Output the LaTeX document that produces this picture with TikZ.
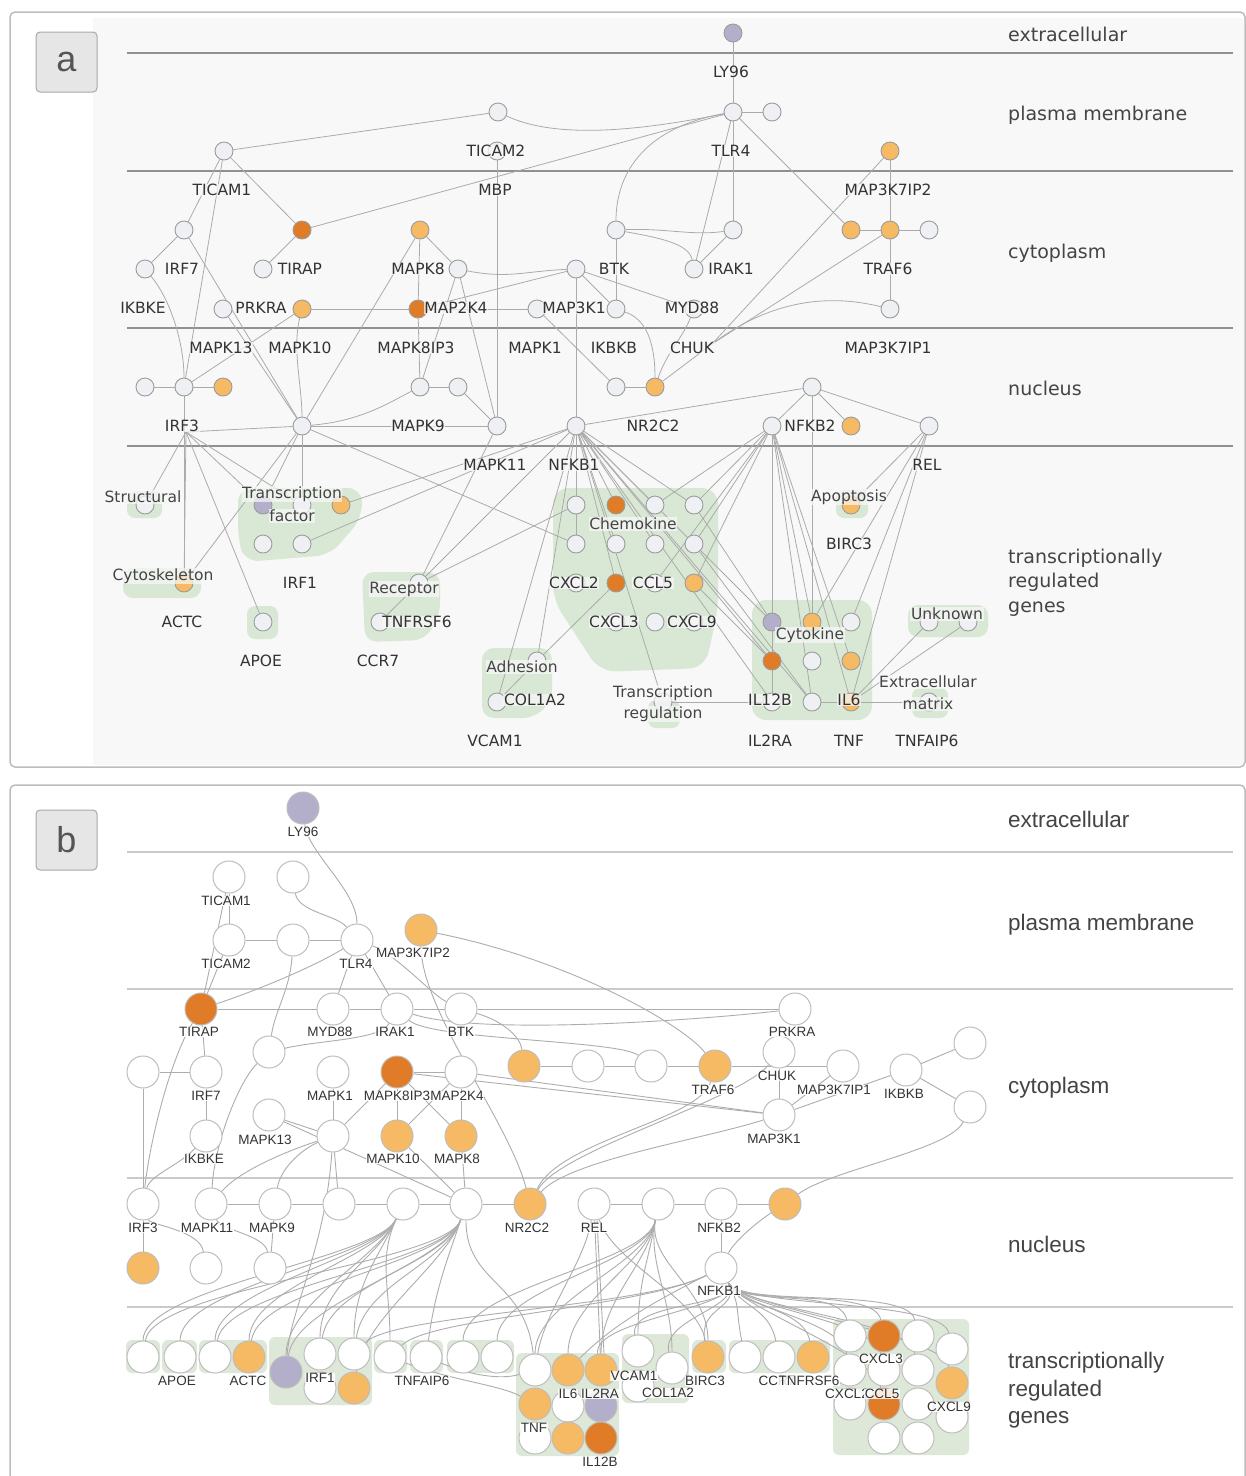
\documentclass[tikz,border=0pt]{standalone}
\usepackage{fontspec}
\newfontfamily\dvs{DejaVu Sans}
\newfontfamily\lib{Liberation Sans}
\definecolor{edgeA}{HTML}{ABABAB}
\definecolor{nodeA}{HTML}{9C9C9C}
\definecolor{wA}{HTML}{EEF0F3}
\definecolor{colLO}{HTML}{F5BA63}
\definecolor{colDO}{HTML}{E07B27}
\definecolor{colPU}{HTML}{B3AECA}
\definecolor{blobG}{HTML}{D9E8D5}
\definecolor{bgA}{HTML}{F8F8F8}
\definecolor{frameC}{HTML}{BDBDBD}
\definecolor{labC}{HTML}{333333}
\definecolor{regC}{HTML}{444444}
\definecolor{boxB}{HTML}{DEE8D9}
\definecolor{edgeB}{HTML}{ADADAD}
\definecolor{nodeB}{HTML}{BDBDBD}
\definecolor{sepA}{HTML}{8E9194}
\definecolor{sepB}{HTML}{CACACA}
\definecolor{letBox}{HTML}{E6E6E6}
\definecolor{letDraw}{HTML}{A9A9A9}
\definecolor{letC}{HTML}{555555}
\pgfdeclarelayer{back}
\pgfdeclarelayer{blobs}
\pgfdeclarelayer{edges}
\pgfsetlayers{back,blobs,edges,main}
\begin{document}
\begin{tikzpicture}[x=1pt,y=-1pt,
 anode/.style={circle,draw=nodeA,line width=0.9pt,minimum size=18pt,inner sep=0pt},
 alab/.style={font={\dvs\fontsize{15.5}{17}\selectfont},text=labC,fill=bgA,fill opacity=0.72,text opacity=1,inner sep=0.6pt},
 glab/.style={alab,text=regC},
 ae/.style={draw=edgeA,line width=0.8pt},
 bnode/.style={circle,draw=nodeB,line width=1pt,minimum size=32pt,inner sep=0pt},
 blab/.style={font={\lib\fontsize{13.5}{15}\selectfont},text=labC,fill=white,fill opacity=0.85,text opacity=1,inner sep=0.6pt},
 be/.style={draw=edgeB,line width=0.9pt},
 rega/.style={font={\dvs\fontsize{19}{22}\selectfont},text=regC,anchor=base west,inner sep=0pt},
 regb/.style={font={\lib\fontsize{22.5}{26}\selectfont},text=regC,anchor=base west,inner sep=0pt},
 blob/.style={fill=blobG},
 gbox/.style={fill=boxB,rounded corners=6pt},
 letterbox/.style={draw=letDraw,fill=letBox,line width=1pt,rounded corners=4pt,minimum width=61pt,minimum height=60pt,font={\lib\fontsize{36}{40}\selectfont},text=letC}
]
\useasboundingbox (0,0) rectangle (1246,1476);

% ---------- frames and separators ----------
\begin{pgfonlayer}{back}
\fill[white] (0,0) rectangle (1246,1476);
\fill[bgA] (93,18) rectangle (1244,765);
\draw[frameC,line width=1.5pt,rounded corners=5pt] (10,12) rectangle (1245,767);
\draw[frameC,line width=1.5pt,rounded corners=5pt] (10,785) rectangle (1245,1492);
\foreach \yy in {53,171,328,446} \draw[sepA,line width=1.2pt] (127,\yy) -- (1233,\yy);
\foreach \yy in {852,989,1178,1307} \draw[sepB,line width=2.6pt] (127,\yy) -- (1233,\yy);
\end{pgfonlayer}

\node[letterbox] (pa) at (66.5,62) {a};
\node[letterbox] (pb) at (66.5,840) {b};

% region labels
\node[rega] (ra1) at (1008,41) {extracellular};
\node[rega] (ra2) at (1008,120) {plasma membrane};
\node[rega] (ra3) at (1008,258) {cytoplasm};
\node[rega] (ra4) at (1008,395) {nucleus};
\node[rega] (ra5) at (1008,563) {transcriptionally};
\node[rega] (ra6) at (1008,587) {regulated};
\node[rega] (ra7) at (1008,612) {genes};
\node[regb] (rb1) at (1008,827) {extracellular};
\node[regb] (rb2) at (1008,930) {plasma membrane};
\node[regb] (rb3) at (1008,1093) {cytoplasm};
\node[regb] (rb4) at (1008,1252) {nucleus};
\node[regb] (rb5) at (1008,1368) {transcriptionally};
\node[regb] (rb6) at (1008,1396) {regulated};
\node[regb] (rb7) at (1008,1423) {genes};

% ---------- panel a: blobs ----------
\begin{pgfonlayer}{blobs}
\fill[blob,rounded corners=8pt] (127,491) rectangle (162,518);
\fill[blob,rounded corners=14pt] (238,488) -- (362,488) -- (362,518) -- (330,555) -- (245,562) -- (238,540) -- cycle;
\fill[blob,rounded corners=10pt] (123,568) rectangle (201,598);
\fill[blob,rounded corners=8pt] (247,606) rectangle (278,639);
\fill[blob,rounded corners=12pt] (362,572) -- (440,572) -- (440,615) -- (425,640) -- (365,642) -- cycle;
\fill[blob,rounded corners=16pt] (553,488) -- (718,488) -- (718,610) -- (705,668) -- (600,672) -- (553,600) -- cycle;
\fill[blob,rounded corners=12pt] (482,648) -- (552,648) -- (552,700) -- (535,718) -- (482,718) -- cycle;
\fill[blob,rounded corners=8pt] (648,700) rectangle (680,728);
\fill[blob,rounded corners=8pt] (836,490) rectangle (868,518);
\fill[blob,rounded corners=14pt] (752,600) rectangle (872,720);
\fill[blob,rounded corners=10pt] (908,605) rectangle (988,637);
\fill[blob,rounded corners=8pt] (912,688) rectangle (948,718);
% panel b boxes
\fill[gbox] (126,1340) rectangle (160,1373);
\fill[gbox] (162,1340) rectangle (197,1373);
\fill[gbox] (199,1340) rectangle (267,1373);
\fill[gbox] (269,1337) rectangle (372,1405);
\fill[gbox] (374,1340) rectangle (407,1373);
\fill[gbox] (410,1340) rectangle (443,1373);
\fill[gbox] (447,1340) rectangle (514,1373);
\fill[gbox] (516,1353) rectangle (619,1456);
\fill[gbox] (622,1334) rectangle (689,1403);
\fill[gbox] (692,1340) rectangle (726,1373);
\fill[gbox] (729,1340) rectangle (830,1373);
\fill[gbox] (833,1319) rectangle (969,1455);
\end{pgfonlayer}

% ---------- panel a: nodes ----------
\foreach \n/\x/\y/\c in {
aLY96/733/33/colPU,
aTICAM2/498/112/wA, aTLR4/733/112/wA, aU1/772/112/wA,
aTICAM1/224/151/wA, aMBP/497/151/wA, aMAP3K7IP2/890/151/colLO,
aIRF7/184/230/wA, aTIRAP/302/230/colDO, aMAPK8/420/230/colLO, aBTK/616/230/wA, aIRAK1/733/230/wA, aU2/851/230/colLO, aTRAF6/890/230/colLO, aU3/929/230/wA,
aIKBKE/145/269/wA, aPRKRA/263/269/wA, aMAP2K4/458/269/wA, aMAP3K1/576/269/wA, aMYD88/694/269/wA,
aMAPK13/223/309/wA, aMAPK10/302/309/colLO, aMAPK8IP3/418/309/colDO, aMAPK1/537/309/wA, aIKBKB/616/309/wA, aCHUK/694/309/wA, aMAP3K7IP1/890/309/wA,
aU4/145/387/wA, aIRF3/184/387/wA, aU5/223/387/colLO, aMAPK9/420/387/wA, aU6/458/387/wA, aU7/616/387/wA, aNR2C2/655/387/colLO, aNFKB2/812/387/wA,
aU8/302/426/wA, aMAPK11/497/426/wA, aNFKB1/576/426/wA, aU9/772/426/wA, aU10/851/426/colLO, aREL/929/426/wA,
aStr/145/505/wA, aTF1/263/505/colPU, aTF2/302/505/wA, aTF3/341/505/colLO, aTF4/263/544/wA, aIRF1/302/544/wA,
aACTC/184/583/colLO, aAPOE/263/622/wA, aTNFRSF6/419/583/wA, aCCR7/380/622/wA,
aCh1/576/505/wA, aCh2/616/505/colDO, aCh3/655/505/wA, aCh4/694/505/wA, aCXCL2/576/544/wA, aCh6/616/544/wA, aCCL5/655/544/wA, aCh8/694/544/wA, aCh9/576/583/wA, aCXCL3/616/583/colDO, aCh11/655/583/wA, aCXCL9/694/583/colLO, aCh13/616/622/wA, aCh14/655/622/wA, aCh15/694/622/wA,
aCOL1A2/537/661/wA, aVCAM1/497/702/wA, aTR/663/702/wA, aBIRC3/851/505/colLO,
aCk1/772/622/colPU, aCk2/812/622/colLO, aCk3/851/622/wA, aIL12B/772/661/colDO, aCk5/812/661/wA, aIL6/851/661/colLO, aIL2RA/772/702/wA, aCk8/812/702/wA, aTNF/851/702/colLO,
aUn1/929/622/wA, aUn2/968/622/wA, aTNFAIP6/929/702/wA}
  \node[anode,fill=\c] (\n) at (\x,\y) {};
\coordinate (aX) at (712,344);
\coordinate (aH) at (186,432);

% ---------- panel a: edges ----------
\begin{pgfonlayer}{edges}
\foreach \s/\t in {aLY96/aTLR4, aTLR4/aU1, aTICAM1/aTICAM2, aTIRAP/aTLR4, aTLR4/aIRAK1, aTLR4/aMYD88, aIRAK1/aMYD88, aTLR4/aU2,
 aMAP3K7IP2/aTRAF6, aU2/aTRAF6, aTRAF6/aU3, aTRAF6/aMAP3K7IP1, aX/aMAP3K7IP2, aX/aTRAF6, aNR2C2/aX,
 aMAPK1/aU7, aU7/aNR2C2, aMAP3K1/aIKBKB, aMAP3K1/aCHUK, aMAP3K1/aNFKB1, aBTK/aIKBKB, aMAPK8IP3/aMAP3K1, aMAPK8IP3/aMAPK1,
 aMAPK8/aMAP2K4, aMAPK8/aMAPK8IP3, aMAPK8/aU8, aMAP2K4/aMAPK9, aMAP2K4/aMAPK11, aMAPK8IP3/aMAPK9, aMAPK9/aU6, aU6/aMAPK11,
 aU8/aMAPK11, aMBP/aMAPK11, aTICAM1/aIRF7, aTICAM1/aTIRAP, aTICAM1/aIRF3, aIRF7/aIKBKE, aIRF7/aU8, aTIRAP/aPRKRA,
 aMAPK10/aMAPK8IP3, aIRF3/aMAPK10, aMAPK13/aU8, aU4/aIRF3, aIRF3/aU5, aH/aU8,
 aNFKB1/aNFKB2, aNFKB2/aU9, aNFKB2/aU10, aNFKB2/aREL, aNFKB2/aCk2,
 aH/aStr, aH/aACTC, aH/aAPOE, aH/aTF1, aH/aTF2, aIRF3/aACTC, aU8/aTF1, aU8/aTF2, aU8/aACTC, aU8/aCXCL2,
 aNFKB1/aTF3, aNFKB1/aIRF1, aNFKB1/aTNFRSF6, aMAPK11/aTNFRSF6, aNFKB1/aCOL1A2, aNFKB1/aVCAM1,
 aNFKB1/aCh1, aNFKB1/aCh2, aNFKB1/aCh3, aNFKB1/aCh4, aNFKB1/aCXCL2, aNFKB1/aCh6, aNFKB1/aCXCL3, aNFKB1/aCCL5,
 aNFKB1/aCk1, aNFKB1/aIL12B, aNFKB1/aCk8, aNFKB1/aIL2RA, aNFKB1/aTR,
 aU9/aCh4, aU9/aCh8, aU9/aCXCL9, aU9/aCh3, aU9/aCk1, aU9/aCk2, aU9/aIL6, aU9/aCk8, aU9/aTNF, aU9/aIL2RA, aU9/aCh11,
 aREL/aBIRC3, aREL/aCk2, aREL/aCk3, aREL/aTNF, aUn1/aTNF, aUn2/aTNF, aTNF/aTNFAIP6, aCk8/aTNF, aTR/aIL2RA,
 aCOL1A2/aCXCL3, aVCAM1/aCOL1A2, aTNFRSF6/aCCR7, aTNFRSF6/aCh1, aCh8/aCk8, aCXCL9/aIL12B, aCh4/aCk1}
  \draw[ae] (\s) -- (\t);
\draw[ae] (aTICAM2) .. controls +(60,28) and +(-90,18) .. (aTLR4);
\draw[ae] (aTLR4) .. controls +(-85,15) and +(0,-60) .. (aBTK);
\draw[ae] (aBTK) .. controls +(50,-2) and +(-40,6) .. (aIRAK1);
\draw[ae] (aBTK) .. controls +(45,8) and +(-5,-25) .. (aMYD88);
\draw[ae] (aX) .. controls +(60,-45) and +(-60,-15) .. (aMAP3K7IP1);
\draw[ae] (aCHUK) .. controls +(-12,30) and +(12,-35) .. (aNR2C2);
\draw[ae] (aIKBKB) .. controls +(30,10) and +(0,-45) .. (aNR2C2);
\draw[ae] (aMAP2K4) .. controls +(50,10) and +(-50,2) .. (aMAP3K1);
\draw[ae] (aU8) .. controls +(60,-5) and +(-30,15) .. (aMAPK9);
\draw[ae] (aIKBKE) .. controls +(25,30) and +(0,-45) .. (aIRF3);
\draw[ae] (aMAPK10) .. controls +(-10,40) and +(0,-40) .. (aU8);
\end{pgfonlayer}

% ---------- panel a: labels ----------
\foreach \n/\t in {aLY96/LY96, aTICAM2/TICAM2, aTLR4/TLR4, aTICAM1/TICAM1, aMBP/MBP, aMAP3K7IP2/MAP3K7IP2, aIRF7/IRF7, aTIRAP/TIRAP,
 aMAPK8/MAPK8, aBTK/BTK, aIRAK1/IRAK1, aTRAF6/TRAF6, aIKBKE/IKBKE, aPRKRA/PRKRA, aMAP2K4/MAP2K4, aMAP3K1/MAP3K1, aMYD88/MYD88,
 aMAPK13/MAPK13, aMAPK10/MAPK10, aMAPK8IP3/MAPK8IP3, aMAPK1/MAPK1, aIKBKB/IKBKB, aCHUK/CHUK, aMAP3K7IP1/MAP3K7IP1, aIRF3/IRF3,
 aMAPK9/MAPK9, aNR2C2/NR2C2, aNFKB2/NFKB2, aMAPK11/MAPK11, aNFKB1/NFKB1, aREL/REL, aIRF1/IRF1, aACTC/ACTC, aAPOE/APOE,
 aTNFRSF6/TNFRSF6, aCCR7/CCR7, aCXCL2/CXCL2, aCCL5/CCL5, aCXCL3/CXCL3, aCXCL9/CXCL9, aCOL1A2/COL1A2, aVCAM1/VCAM1, aBIRC3/BIRC3,
 aIL12B/IL12B, aIL6/IL6, aIL2RA/IL2RA, aTNF/TNF, aTNFAIP6/TNFAIP6}
  \node[alab] (\n-t) at ([shift={(-2,39)}]\n.center) {\t};
\node[glab] (g1) at (143,497) {Structural};
\node[glab] (g2) at (292,494) {Transcription};
\node[glab] (g3) at (292,516) {factor};
\node[glab] (g4) at (163,576) {Cytoskeleton};
\node[glab] (g5) at (404,589) {Receptor};
\node[glab] (g6) at (633,524) {Chemokine};
\node[glab] (g7) at (522,667) {Adhesion};
\node[glab] (g8) at (663,693) {Transcription};
\node[glab] (g9) at (663,714) {regulation};
\node[glab] (g10) at (849,497) {Apoptosis};
\node[glab] (g11) at (810,635) {Cytokine};
\node[glab] (g12) at (947,614) {Unknown};
\node[glab] (g13) at (928,682) {Extracellular};
\node[glab] (g14) at (928,704) {matrix};

% ---------- panel b: nodes ----------
\foreach \n/\x/\y/\c in {
bLY96/303/808/colPU, bTICAM1/229/877/white, bU1/293/877/white, bTICAM2/229/940/white, bU2/293/940/white, bTLR4/357/940/white, bMAP3K7IP2/421/930/colLO,
bTIRAP/201/1009/colDO, bMYD88/333/1009/white, bIRAK1/397/1009/white, bBTK/461/1009/white, bPRKRA/795/1009/white,
bU3/269/1052/white, bCHUK/779/1052/white,
bU4/524/1066/colLO, bU5/588/1066/white, bU6/651/1066/white, bTRAF6/715/1066/colLO, bMAP3K7IP1/843/1066/white, bIKBKB/906/1070/white, bU7/970/1043/white, bU8/970/1107/white,
bU9/143/1072/white, bIRF7/206/1072/white, bMAPK1/333/1072/white, bMAPK8IP3/397/1072/colDO, bMAP2K4/461/1072/white,
bMAPK13/269/1115/white, bMAP3K1/779/1115/white,
bIKBKE/206/1136/white, bU10/333/1136/white, bMAPK10/397/1136/colLO, bMAPK8/461/1136/colLO,
bIRF3/143/1204/white, bMAPK11/211/1204/white, bMAPK9/275/1204/white, bU11/339/1204/white, bH1/403/1204/white, bH2/466/1204/white, bNR2C2/530/1204/colLO, bREL/594/1204/white, bH3/658/1204/white, bNFKB2/721/1204/white, bU12/785/1204/colLO,
bU13/143/1268/colLO, bU14/206/1268/white, bU15/270/1268/white, bNFKB1/721/1268/white,
bT1/143/1357/white, bAPOE/180/1357/white, bT3/215/1357/white, bACTC/249/1357/colLO, bT5/286/1372/colPU, bIRF1/320/1354/white, bT7/354/1354/white, bT8/320/1388/white, bT9/354/1388/colLO, bT10/390/1357/white, bTNFAIP6/426/1357/white, bT12/463/1357/white, bT13/497/1357/white,
bT14/535/1370/white, bIL6/568/1370/colLO, bIL2RA/601/1370/colLO, bTNF/535/1404/colLO, bT18/568/1406/white, bT19/601/1406/colPU, bT20/535/1438/white, bT21/568/1438/colLO, bIL12B/601/1438/colDO,
bVCAM1/638/1351/white, bCOL1A2/672/1368/white, bT25/638/1386/white, bBIRC3/708/1357/colLO, bT27/745/1357/white, bCCR7/779/1357/white, bTNFRSF6/813/1357/colLO,
bX1/850/1336/white, bCXCL3/884/1336/colDO, bX3/918/1336/white, bX4/952/1349/white, bCXCL2/850/1370/white, bCCL5/884/1370/white, bX7/918/1370/white, bCXCL9/952/1383/colLO, bX9/850/1404/white, bX10/884/1404/colDO, bX11/918/1404/white, bX12/952/1417/white, bX13/884/1438/white, bX14/918/1438/white}
  \node[bnode,fill=\c] (\n) at (\x,\y) {};

% ---------- panel b: edges ----------
\begin{pgfonlayer}{edges}
\foreach \s/\t in {bTICAM1/bTICAM2, bTICAM1/bTIRAP, bTICAM2/bTIRAP, bTICAM2/bU2, bU2/bTLR4, bTLR4/bMYD88, bTLR4/bIRAK1,
 bTIRAP/bMYD88, bMYD88/bIRAK1, bIRAK1/bBTK, bBTK/bPRKRA, bTIRAP/bIRF7, bU9/bIRF7, bIRF7/bIKBKE, bU9/bIRF3, bIRF3/bU13,
 bMAPK9/bU15, bMAPK11/bMAPK9, bMAPK9/bU11, bU11/bH1, bH1/bH2, bH2/bNR2C2, bREL/bH3, bH3/bNFKB2, bNFKB2/bU12, bNFKB2/bNFKB1,
 bMAPK1/bU10, bMAPK8IP3/bMAP2K4, bMAPK8IP3/bMAPK10, bMAP2K4/bMAPK8, bMAPK8IP3/bMAPK8, bMAP2K4/bMAPK10, bMAPK8IP3/bU10,
 bMAPK13/bU10, bMAPK13/bH2, bMAPK10/bH2, bMAPK8/bH2, bU10/bU11, bU4/bU5, bU5/bU6, bU6/bTRAF6, bTRAF6/bMAP3K7IP1,
 bCHUK/bMAP3K1, bMAP3K7IP1/bMAP3K1, bIKBKB/bMAP3K1, bMAP2K4/bMAP3K1, bMAPK8IP3/bMAP3K1, bIKBKB/bU7, bIKBKB/bU8, bREL/bIL2RA}
  \draw[be] (\s) -- (\t);
\draw[be] ([xshift=3pt]bREL.south) -- ([xshift=3pt]bIL2RA.north);
\draw[be] (bLY96) .. controls +(5,45) and +(0,-50) .. (bTLR4);
\draw[be] (bU1) .. controls +(5,35) and +(-20,-25) .. (bTLR4);
\draw[be] (bTLR4) .. controls +(-40,25) and +(60,-20) .. (bTIRAP);
\draw[be] (bTLR4) .. controls +(40,15) and +(-30,-15) .. (bBTK);
\draw[be] (bMAP3K7IP2) .. controls +(150,30) and +(-30,-40) .. (bTRAF6);
\draw[be] (bMAP3K7IP2) .. controls +(0,80) and +(-20,-80) .. (bNR2C2);
\draw[be] (bIRAK1) .. controls (480,1036) and (700,1020) .. (bPRKRA);
\draw[be] (bBTK) .. controls (500,1020) and (520,1035) .. (bU4);
\draw[be] (bIRAK1) .. controls (430,1040) and (620,1040) .. (bU6);
\draw[be] (bU2) .. controls (290,990) and (275,1010) .. (bU3);
\draw[be] (bU3) .. controls (320,1040) and (380,1040) .. (bIRAK1);
\draw[be] (bU3) .. controls (240,1080) and (215,1140) .. (bMAPK11);
\draw[be] (bTIRAP) .. controls (170,1060) and (150,1140) .. (bIRF3);
\draw[be] (bIKBKE) .. controls (180,1165) and (150,1175) .. (bIRF3);
\draw[be] (bIRF3) .. controls (150,1225) and (200,1230) .. (bU14);
\draw[be] (bMAPK11) .. controls (220,1230) and (265,1235) .. (bU15);
\draw[be] (bU10) .. controls (290,1150) and (240,1170) .. (bMAPK11);
\draw[be] (bU10) .. controls (300,1150) and (280,1170) .. (bMAPK9);
\draw[be] (bU10) .. controls (325,1250) and (290,1310) .. (bT5);
\draw[be] (bCHUK) .. controls (740,1100) and (560,1150) .. (bNR2C2);
\draw[be] (bTRAF6) .. controls (700,1120) and (560,1140) .. (bNR2C2);
\draw[be] (bMAP3K1) .. controls (700,1140) and (570,1160) .. (bNR2C2);
\draw[be] (bU8) .. controls (950,1150) and (830,1170) .. (bU12);
\draw[be] (bU12) .. controls (760,1220) and (735,1240) .. (bNFKB1);
\foreach \t in {bT1,bAPOE,bT3,bACTC,bT5,bIRF1,bT7,bT10}
  \draw[be] (bH1) .. controls +(-25,55) and +(0,-70) .. (\t);
\foreach \t in {bT1,bT3,bACTC,bT5,bIRF1,bT7,bT9,bTNFAIP6}
  \draw[be] (bH2) .. controls +(-20,60) and +(10,-70) .. (\t);
\draw[be] (bH2) .. controls +(0,80) and +(-10,-90) .. (bT14);
\foreach \t in {bT12,bT13,bT14,bIL6,bIL2RA,bVCAM1,bCOL1A2,bBIRC3}
  \draw[be] (bH3) .. controls +(-10,60) and +(0,-70) .. (\t);
\foreach \t in {bIL2RA,bVCAM1,bCOL1A2,bBIRC3,bT27,bCCR7,bTNFRSF6,bX1,bCXCL3,bX3,bX4,bCXCL2,bCCL5,bX7,bCXCL9,bX10}
  \draw[be] (bNFKB1) .. controls +(20,40) and +(-10,-50) .. (\t);
\foreach \t in {bT7,bT10,bIL6}
  \draw[be] (bNFKB1) .. controls +(-80,40) and +(40,-40) .. (\t);
\draw[be] (bREL) .. controls +(20,60) and +(-10,-60) .. (bBIRC3);
\draw[be] (bREL) .. controls +(-10,60) and +(10,-60) .. (bT14);
\draw[be] (bT10) .. controls (450,1380) and (500,1385) .. (bTNF);
\draw[be] (bTNFAIP6) .. controls (470,1375) and (500,1380) .. (bT14);
\end{pgfonlayer}

% ---------- panel b: labels ----------
\foreach \n/\t/\dx/\dy in {bLY96/LY96/0/24, bTICAM1/TICAM1/-3/24, bTICAM2/TICAM2/-3/24, bTLR4/TLR4/-1/24, bMAP3K7IP2/MAP3K7IP2/-8/23,
 bTIRAP/TIRAP/-2/23, bMYD88/MYD88/-3/23, bIRAK1/IRAK1/-2/23, bBTK/BTK/0/23, bPRKRA/PRKRA/-3/23, bCHUK/CHUK/-2/24,
 bTRAF6/TRAF6/-2/24, bMAP3K7IP1/MAP3K7IP1/-9/24, bIKBKB/IKBKB/-2/24, bIRF7/IRF7/0/24, bMAPK1/MAPK1/-3/24,
 bMAPK8IP3/MAPK8IP3/0/24, bMAP2K4/MAP2K4/-4/24, bMAPK13/MAPK13/-4/25, bMAP3K1/MAP3K1/-5/24, bIKBKE/IKBKE/-2/23,
 bMAPK10/MAPK10/-4/23, bMAPK8/MAPK8/-4/23, bIRF3/IRF3/0/24, bMAPK11/MAPK11/-4/24, bMAPK9/MAPK9/-3/24, bNR2C2/NR2C2/-3/24,
 bREL/REL/0/24, bNFKB2/NFKB2/-2/24, bNFKB1/NFKB1/-2/23, bAPOE/APOE/-3/24, bACTC/ACTC/-1/24, bIRF1/IRF1/0/24,
 bTNFAIP6/TNFAIP6/-4/24, bIL6/IL6/0/24, bIL2RA/IL2RA/-1/24, bTNF/TNF/-1/24, bIL12B/IL12B/-1/24, bVCAM1/VCAM1/-4/25,
 bCOL1A2/COL1A2/-4/25, bBIRC3/BIRC3/-3/24, bCCR7/CCR7/-2/24, bTNFRSF6/TNFRSF6/-4/24, bCXCL3/CXCL3/-3/23,
 bCXCL2/CXCL2/-3/24, bCCL5/CCL5/-2/24, bCXCL9/CXCL9/-3/24}
  \node[blab] (\n-t) at ([shift={(\dx,\dy)}]\n.center) {\t};
\end{tikzpicture}
\end{document}
